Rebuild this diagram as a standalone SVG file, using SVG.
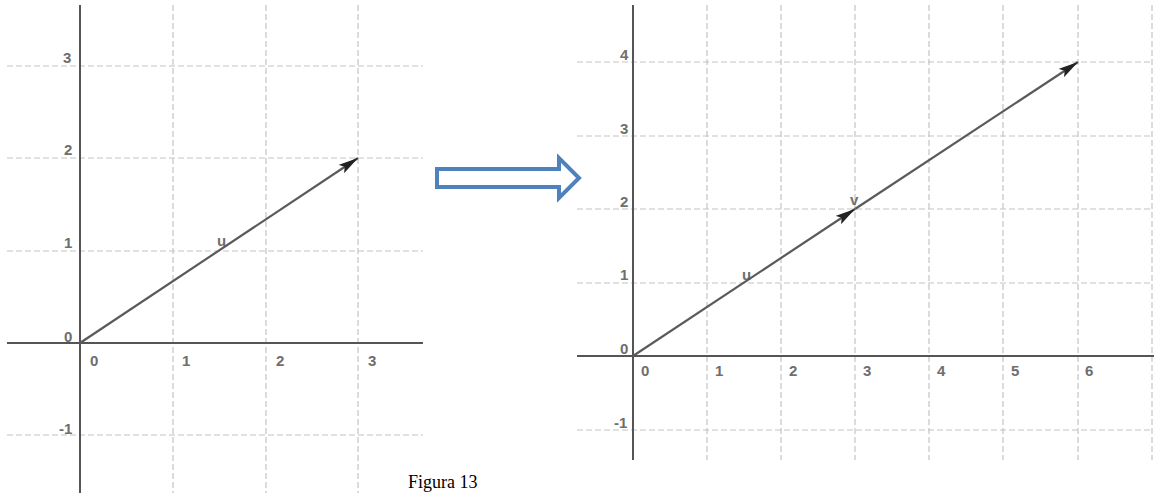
<svg xmlns="http://www.w3.org/2000/svg" width="1154" height="493" viewBox="0 0 1154 493">
<style>
.grid{stroke:#c4c4c4;stroke-width:1.2;stroke-dasharray:6 3;fill:none}
.axis{stroke:#555;stroke-width:2;fill:none}
.vec{stroke:#5a5a5a;stroke-width:2.2;fill:none}
.lbl{font-family:"Liberation Sans",Arial,sans-serif;font-weight:bold;font-size:15px;fill:#6e6e6e}
.cap{font-family:"Liberation Serif","Times New Roman",serif;font-size:18px;fill:#000}
</style>
<defs>
<marker id="ah" viewBox="0 0 20 10" refX="20" refY="5" markerWidth="20" markerHeight="10" markerUnits="userSpaceOnUse" orient="auto">
<path d="M0,0 L20,5 L0,10 L4,5 Z" fill="#222"/>
</marker>
</defs>
<rect width="1154" height="493" fill="#fff"/>

<g id="left-graph">
<g id="left-grid">
<line class="grid" x1="173" y1="5" x2="173" y2="493"/>
<line class="grid" x1="266" y1="5" x2="266" y2="493"/>
<line class="grid" x1="358" y1="5" x2="358" y2="493"/>
<line class="grid" x1="7" y1="66" x2="423" y2="66"/>
<line class="grid" x1="7" y1="158" x2="423" y2="158"/>
<line class="grid" x1="7" y1="251" x2="423" y2="251"/>
<line class="grid" x1="7" y1="435" x2="423" y2="435"/>
</g>
<g id="left-axes">
<line class="axis" x1="7" y1="343" x2="423" y2="343"/>
<line class="axis" x1="80" y1="5" x2="80" y2="493"/>
</g>
<g id="left-labels">
<text class="lbl" x="63" y="63">3</text>
<text class="lbl" x="64" y="155">2</text>
<text class="lbl" x="64" y="248">1</text>
<text class="lbl" x="64" y="342">0</text>
<text class="lbl" x="59" y="434">-1</text>
<text class="lbl" x="90" y="366">0</text>
<text class="lbl" x="182" y="366">1</text>
<text class="lbl" x="276" y="366">2</text>
<text class="lbl" x="368" y="366">3</text>
<text class="lbl" x="217" y="246">u</text>
</g>
</g>

<g id="right-graph">
<g id="right-grid">
<line class="grid" x1="707" y1="5" x2="707" y2="460"/>
<line class="grid" x1="781" y1="5" x2="781" y2="460"/>
<line class="grid" x1="855" y1="5" x2="855" y2="460"/>
<line class="grid" x1="929" y1="5" x2="929" y2="460"/>
<line class="grid" x1="1003" y1="5" x2="1003" y2="460"/>
<line class="grid" x1="1078" y1="5" x2="1078" y2="460"/>
<line class="grid" x1="1152" y1="5" x2="1152" y2="460"/>
<line class="grid" x1="577" y1="62" x2="1152" y2="62"/>
<line class="grid" x1="577" y1="136" x2="1152" y2="136"/>
<line class="grid" x1="577" y1="209" x2="1152" y2="209"/>
<line class="grid" x1="577" y1="283" x2="1152" y2="283"/>
<line class="grid" x1="577" y1="430" x2="1152" y2="430"/>
</g>
<g id="right-axes">
<line class="axis" x1="577" y1="356" x2="1154" y2="356"/>
<line class="axis" x1="633" y1="5" x2="633" y2="460"/>
</g>
<g id="right-labels">
<text class="lbl" x="620" y="60">4</text>
<text class="lbl" x="620" y="134">3</text>
<text class="lbl" x="620" y="207">2</text>
<text class="lbl" x="620" y="280">1</text>
<text class="lbl" x="620" y="354">0</text>
<text class="lbl" x="614" y="428">-1</text>
<text class="lbl" x="641" y="376">0</text>
<text class="lbl" x="715" y="376">1</text>
<text class="lbl" x="789" y="376">2</text>
<text class="lbl" x="863" y="376">3</text>
<text class="lbl" x="937" y="376">4</text>
<text class="lbl" x="1011" y="376">5</text>
<text class="lbl" x="1085" y="376">6</text>
<text class="lbl" x="742" y="280">u</text>
<text class="lbl" x="850" y="205">v</text>
</g>
</g>

<g id="connectors">
<line class="vec" x1="80" y1="343" x2="358" y2="158" marker-end="url(#ah)"/>
<line class="vec" x1="633" y1="356" x2="855" y2="209" marker-end="url(#ah)"/>
<line class="vec" x1="855" y1="209" x2="1078" y2="62" marker-end="url(#ah)"/>
</g>

<g id="transform-arrow">
<path d="M437,169 L559,169 L559,158 L579,178 L559,198 L559,187 L437,187 Z" fill="#fff" stroke="#4f81bd" stroke-width="4" stroke-linejoin="miter"/>
</g>

<g id="caption">
<text class="cap" x="408" y="488">Figura 13</text>
</g>
</svg>
